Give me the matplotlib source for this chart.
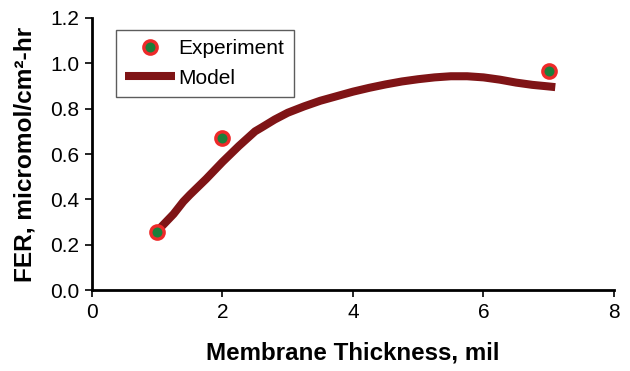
import matplotlib
matplotlib.use("Agg")
import matplotlib.pyplot as plt

plt.rcParams['font.family'] = ['Liberation Sans', 'DejaVu Sans']

# experiment points
exp_x = [1, 2, 7]
exp_y = [0.255, 0.67, 0.965]

# model curve
model_x = [1.0, 1.1, 1.25, 1.4, 1.5, 1.75, 2.0, 2.25, 2.5, 2.6, 2.8, 3.0, 3.25, 3.5, 3.75, 4.0,
           4.25, 4.5, 4.75, 5.0, 5.25, 5.5, 5.75, 6.0, 6.25, 6.5, 6.75, 7.0, 7.1]
model_y = [0.26, 0.29, 0.335, 0.39, 0.42, 0.49, 0.565, 0.635, 0.70, 0.717, 0.752, 0.782, 0.81,
           0.835, 0.855, 0.875, 0.892, 0.907, 0.92, 0.93, 0.938, 0.943, 0.943, 0.938, 0.928,
           0.915, 0.905, 0.898, 0.895]

xticks = [0, 2, 4, 6, 8]
yticks = [0.0, 0.2, 0.4, 0.6, 0.8, 1.0, 1.2]

fig = plt.figure(figsize=(6.3, 3.71), dpi=100)
ax = fig.add_axes([0.146, 0.2183, 0.8286, 0.7332])

ax.plot(model_x, model_y, color='#7f1416', lw=5.8, solid_capstyle='butt',
        solid_joinstyle='round', label='Model', zorder=2)
ax.plot(exp_x, exp_y, ls='none', marker='o', ms=9.6, mfc='#1b7f3b', mec='#ee2a2a', mew=2.4,
        label='Experiment', zorder=3)

ax.set_xlim(0, 8)
ax.set_ylim(0, 1.2)
ax.set_xticks(xticks)
ax.set_yticks(yticks)
ax.set_yticklabels(['%.1f' % v for v in yticks])

for s in ['top', 'right']:
    ax.spines[s].set_visible(False)
for s in ['left', 'bottom']:
    ax.spines[s].set_linewidth(2)
ax.tick_params(direction='out', length=5, width=1.2, labelsize=15, pad=4)

ax.set_xlabel('Membrane Thickness, mil', fontsize=17.4, fontweight='bold')
ax.set_ylabel('FER, micromol/cm²-hr', fontsize=17.6, fontweight='bold')
ax.xaxis.set_label_coords(0.5, -0.19)
ax.yaxis.set_label_coords(-0.107, 0.5)

h, l = ax.get_legend_handles_labels()
leg = ax.legend(h[::-1], l[::-1], loc='upper left', bbox_to_anchor=(0.046, 0.956),
                borderaxespad=0, fancybox=False, fontsize=15, handlelength=2.4,
                handletextpad=0.15, labelspacing=0.5, borderpad=0.45)
leg.get_frame().set_edgecolor('#333333')
leg.get_frame().set_linewidth(1)

fig.savefig('out.png', dpi=100)
